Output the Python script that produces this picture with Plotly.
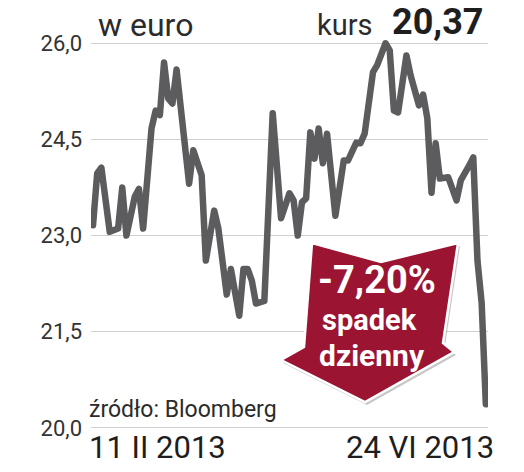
import plotly.graph_objects as go

# ---- data (trading-day index from 11 II 2013 to 24 VI 2013, price in EUR) ----
day = [0, 1, 2, 4, 6, 7, 8, 10, 11, 12, 14, 15, 16, 17, 18, 19, 20, 23, 24, 26,
       27, 29, 30, 32, 33, 35, 36, 37, 38, 39, 41, 43, 45, 47, 48, 49, 50, 51, 52, 53,
       54, 55, 56, 58, 60, 61, 63, 64, 65, 67, 68, 70, 71, 72, 73, 75, 76, 78, 79, 80,
       81, 82, 83, 85, 87, 88, 90, 91, 92, 93, 94]
kurs = [23.16, 23.97, 24.06, 23.06, 23.11, 23.75, 23.00, 23.61, 23.73, 23.11,
        24.67, 24.95, 24.88, 25.70, 25.14, 25.06, 25.59, 23.81, 24.33, 23.94,
        22.61, 23.39, 23.11, 22.08, 22.48, 21.75, 22.48, 22.48, 22.30, 21.94,
        21.98, 24.91, 23.27, 23.66, 23.55, 23.00, 23.52, 23.58, 24.61, 24.20,
        24.67, 24.13, 24.59, 23.31, 24.17, 24.17, 24.45, 24.44, 24.59, 25.55,
        25.66, 26.00, 25.89, 24.95, 24.92, 25.81, 25.50, 25.03, 25.20, 24.83,
        23.67, 24.44, 23.89, 23.91, 23.55, 23.86, 24.09, 24.22, 22.61, 21.95,
        20.37]
y_ticks = [20.0, 21.5, 23.0, 24.5, 26.0]
y_tick_labels = ["20,0", "21,5", "23,0", "24,5", "26,0"]
date_start = "11 II 2013"
date_end = "24 VI 2013"
last_price = "20,37"
change = "-7,20%"

W, H = 524, 472
ML, MR, MT, MB = 91, 36, 24, 28

def px(x):
    return (x - ML) / (W - ML - MR)

def py(y):
    return (H - MB - y) / (H - MT - MB)

fig = go.Figure()
fig.add_trace(go.Scatter(
    x=day, y=kurs, mode="lines",
    line=dict(color="#5c5c5e", width=6.5),
    hoverinfo="skip", showlegend=False,
))

# arrow outline (pixel positions of decorative badge)
arrow_pts = [(312, 243), (381, 262), (458, 243), (443, 343), (454, 352),
             (365, 402), (281, 360), (304, 347)]

def path_from(pts, dx=0, dy=0):
    s = ""
    for i, (x, y) in enumerate(pts):
        s += ("M" if i == 0 else "L") + f"{px(x + dx):.5f},{py(y + dy):.5f} "
    return s + "Z"

shapes = [
    dict(type="path", xref="paper", yref="paper", path=path_from(arrow_pts, 2, 3),
         fillcolor="rgba(0,0,0,0.22)", line=dict(width=0), layer="above"),
    dict(type="path", xref="paper", yref="paper", path=path_from(arrow_pts),
         fillcolor="#9b1431", line=dict(color="white", width=2.5), layer="above"),
]

txt = "#2b2b2b"
annotations = [
    dict(text="w euro", x=px(96), y=py(25), xanchor="left", yanchor="middle",
         font=dict(family="Roboto", size=32, color=txt)),
    dict(text="kurs", x=px(374), y=py(25), xanchor="right", yanchor="middle",
         font=dict(family="Roboto", size=29, color=txt)),
    dict(text="<b>" + last_price + "</b>", x=px(485), y=py(22), xanchor="right", yanchor="middle",
         font=dict(family="Roboto", size=36, color="#1e1e1e")),
    dict(text="źródło: Bloomberg", x=px(87), y=py(409), xanchor="left", yanchor="middle",
         font=dict(family="Roboto", size=23, color=txt)),
    dict(text=date_start, x=px(87), y=py(447), xanchor="left", yanchor="middle",
         font=dict(family="Roboto", size=31, color="#1e1e1e")),
    dict(text=date_end, x=px(496), y=py(447), xanchor="right", yanchor="middle",
         font=dict(family="Roboto", size=31, color="#1e1e1e")),
    dict(text="<b>" + change + "</b>", x=px(377), y=py(280), xanchor="center", yanchor="middle",
         font=dict(family="Roboto", size=38, color="white")),
    dict(text="<b>spadek</b>", x=px(369), y=py(320), xanchor="center", yanchor="middle",
         font=dict(family="Roboto", size=29, color="white")),
    dict(text="<b>dzienny</b>", x=px(372), y=py(355), xanchor="center", yanchor="middle",
         font=dict(family="Roboto", size=30, color="white")),
]
for a in annotations:
    a.update(xref="paper", yref="paper", showarrow=False)

fig.update_layout(
    width=W, height=H, autosize=False,
    margin=dict(l=ML, r=MR, t=MT, b=MB, pad=0),
    paper_bgcolor="white", plot_bgcolor="white",
    shapes=shapes, annotations=annotations,
    xaxis=dict(range=[-0.48, 94.52], showgrid=False, zeroline=False, showline=False,
               showticklabels=False, ticks="", fixedrange=True),
    yaxis=dict(range=[19.75, 26.3], tickvals=y_ticks, ticktext=y_tick_labels,
               showgrid=True, gridcolor="#cfcfcf", gridwidth=1.2, zeroline=False,
               showline=False, ticks="", ticklabelstandoff=8,
               tickfont=dict(family="Roboto", size=22, color="#333333"), fixedrange=True),
)

post = """
document.documentElement.style.margin='0';
document.body.style.margin='0';
document.body.style.padding='0';
document.querySelectorAll('.js-line').forEach(function(e){
  e.style.strokeLinejoin='round'; e.style.strokeLinecap='round';
});
"""
fig.write_html("out.html", post_script=post, config={"displayModeBar": False})
